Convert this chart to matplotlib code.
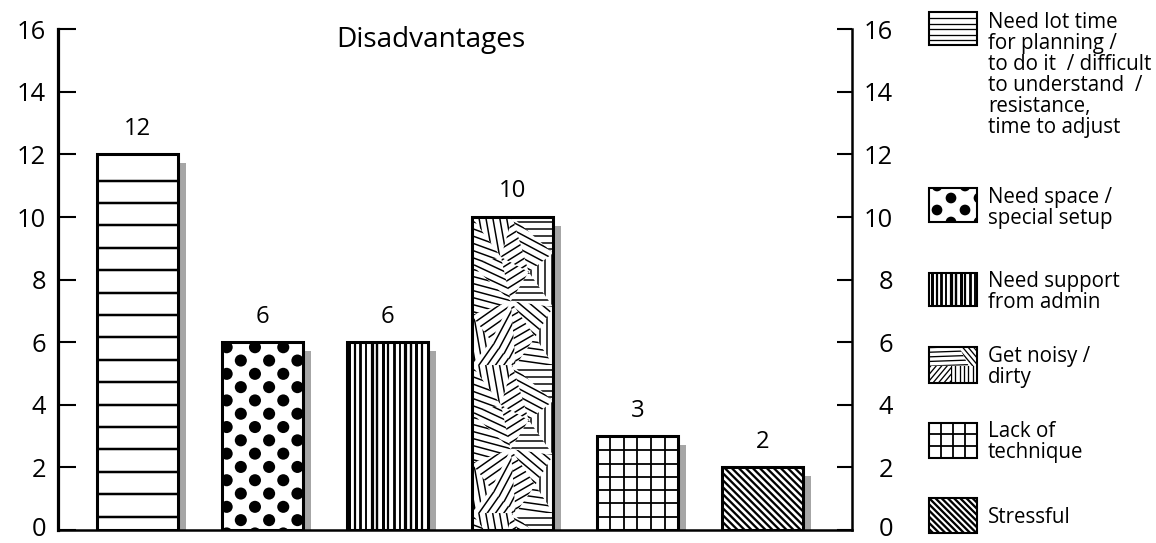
import numpy as np
import matplotlib
matplotlib.use("Agg")
import matplotlib.pyplot as plt
from matplotlib.collections import LineCollection, CircleCollection
from matplotlib.patches import Rectangle, Polygon
from matplotlib.transforms import IdentityTransform, Bbox, ScaledTranslation

# ---------------- data ----------------
title = "Disadvantages"
categories = [
    "Need lot time\nfor planning /\nto do it  / difficult\nto understand  /\nresistance,\ntime to adjust",
    "Need space /\nspecial setup",
    "Need support\nfrom admin",
    "Get noisy /\ndirty",
    "Lack of\ntechnique",
    "Stressful",
]
counts = [12, 6, 6, 10, 3, 2]
patterns = ["hlines", "dots", "vlines", "patchwork", "grid", "diagonal"]
y_ticks = [0, 2, 4, 6, 8, 10, 12, 14, 16]
y_tick_labels = [str(t) for t in y_ticks]

# ---------------- figure setup ----------------
W, H, DPI = 1156, 543, 100
PT = 72.0 / DPI                      # points per pixel
plt.rcParams["font.family"] = ["Open Sans", "DejaVu Sans"]

fig = plt.figure(figsize=(W / DPI, H / DPI), dpi=DPI)
fig.patch.set_facecolor("white")

ax_l, ax_r, ax_t, ax_b = 58.3, 852.0, 29.3, 530.0      # frame in image pixels
ax = fig.add_axes([ax_l / W, (H - ax_b) / H, (ax_r - ax_l) / W, (ax_b - ax_t) / H])
x = np.arange(len(counts))
bar_w = 0.652
ax.set_xlim(-0.633, 5.717)
ax.set_ylim(0, 16)

ID = IdentityTransform()


def _attach(target, artist, clip, clip_box):
    # add first, then clip (adding to an Axes would otherwise reset the clip)
    if target is fig:
        fig.add_artist(artist)
    else:
        target.add_collection(artist, autolim=False)
    if clip is not None:
        artist.set_clip_path(clip)
    if clip_box is not None:
        artist.set_clip_box(clip_box)


def add_lines(target, segs, lw_px, clip=None, clip_box=None, zorder=3, color="black"):
    lc = LineCollection(segs, colors=color, linewidths=lw_px * PT,
                        transform=ID, zorder=zorder, capstyle="butt")
    _attach(target, lc, clip, clip_box)
    return lc


def angled_segments(poly, angle, spacing):
    """Parallel lines at `angle` (display degrees) covering polygon `poly`."""
    poly = np.asarray(poly, float)
    c = poly.mean(axis=0)
    R = np.max(np.hypot(*(poly - c).T)) + spacing
    a = np.deg2rad(angle)
    d = np.array([np.cos(a), np.sin(a)])
    n = np.array([-np.sin(a), np.cos(a)])
    k = int(R / spacing) + 1
    segs = []
    for i in range(-k, k + 1):
        p = c + n * i * spacing
        segs.append([p - d * R, p + d * R])
    return segs


def add_dots(target, centers, diam_px, clip, zorder=3):
    cc = CircleCollection([(diam_px * PT) ** 2], offsets=centers,
                          offset_transform=ID, facecolors="black",
                          edgecolors="none", zorder=zorder)
    cc.set_transform(ID)
    _attach(target, cc, clip, None)


# tile used for the patchwork fill (u: fraction of width, v: px down from tile top)
tile_pts = {"A": (0, 0), "B": (0.5, 0), "C": (1, 0), "D": (0, 48), "E": (0.36, 40),
            "F": (0.7, 55), "G": (1, 36), "H": (0, 98), "I": (0.48, 84), "J": (1, 90),
            "K": (0, 148), "L": (0.54, 148), "M": (1, 148), "N": (0.24, 124), "O": (0.78, 120)}
tile_tris = [("ABE", 100), ("BEF", 32), ("BFG", -28), ("BCG", 0), ("AED", -20),
             ("DEI", -25), ("EFI", 32), ("FGJ", 90), ("FJI", 0), ("DHI", -15),
             ("HIN", 35), ("INL", 62), ("IOL", 30), ("IJO", -40), ("JMO", 90),
             ("OML", -8), ("HNK", 100), ("NLK", 55)]
TILE_H = 148


def fill_pattern(target, kind, x0, y0, x1, y1, clip, legend=False, base=None):
    """Draw a fill pattern inside the display box (x0,y0)-(x1,y1), clipped to `clip`."""
    w, h = x1 - x0, y1 - y0
    box = Bbox([[x0, y0], [x1, y1]])
    if kind == "hlines":
        if legend:
            ys = np.arange(y1 - 6.2, y0 + 1, -5.6)
            lw = 1.3
        else:
            ys = np.arange(base + 13.5, y1 - 4, 22.4)
            lw = 2.5
        add_lines(target, [[(x0 - 2, yy), (x1 + 2, yy)] for yy in ys], lw, clip)
    elif kind == "vlines":
        step = 4.8 if legend else 5.6
        xs = np.arange(x0 + 2.5, x1, step)
        widths = [3.0, 2.2, 2.8, 1.9, 3.2, 2.4]
        for i, xx in enumerate(xs):
            add_lines(target, [[(xx, y0 - 2), (xx, y1 + 2)]], widths[i % len(widths)], clip)
    elif kind == "grid":
        ncol = 4 if legend else 6
        xs = [x0 + w * k / ncol for k in range(1, ncol)]
        if legend:
            ys = [y0 + h * k / 3 for k in (1, 2)]
        else:
            ys = np.arange(base + 13.3, y1 - 2, 13.3)
        segs = [[(xx, y0 - 2), (xx, y1 + 2)] for xx in xs]
        segs += [[(x0 - 2, yy), (x1 + 2, yy)] for yy in ys]
        add_lines(target, segs, 1.8, clip)
    elif kind == "diagonal":
        step = 6.2 if legend else 7.0
        poly = [(x0, y0), (x1, y0), (x1, y1), (x0, y1)]
        add_lines(target, angled_segments(poly, -45, step * np.sin(np.pi / 4)),
                  2.3, clip)
    elif kind == "dots":
        if legend:
            dx, dy, d, fx, fy = 28.0, 12.0, 9.5, 7.7, -2.3
        else:
            dx, dy, d, fx, fy = 28.3, 13.3, 10.7, 5.0, 5.0
        centers = []
        r = 0
        yy = y1 - fy
        while yy > y0 - d:
            shift = 0 if r % 2 == 0 else dx / 2
            xx = x0 + fx + shift - dx
            while xx < x1 + d:
                centers.append((xx, yy))
                xx += dx
            yy -= dy
            r += 1
        add_dots(target, centers, d, clip)
    elif kind == "patchwork":
        if legend:
            # four quadrants with different line directions
            m = y1 - 0.53 * h
            quads = [([(x0, y1), (x0 + 0.62 * w, y1), (x0 + 0.83 * w, m), (x0, m)], 2, 4.6),
                     ([(x0 + 0.62 * w, y1), (x1, y1), (x1, m), (x0 + 0.83 * w, m)], -50, 4.2),
                     ([(x0, m), (x0 + 0.46 * w, m), (x0 + 0.46 * w, y0), (x0, y0)], 50, 4.2),
                     ([(x0 + 0.46 * w, m), (x1, m), (x1, y0), (x0 + 0.46 * w, y0)], 90, 4.4)]
            for poly, ang, sp in quads:
                pp = Polygon(poly, closed=True, transform=ID)
                add_lines(target, angled_segments(poly, ang, sp), 1.3, pp, box)
        else:
            top = y1
            k = 0
            while top - k * TILE_H > y0:
                tt = top - k * TILE_H
                for names, ang in tile_tris:
                    poly = [(x0 + tile_pts[c][0] * w, tt - tile_pts[c][1]) for c in names]
                    pp = Polygon(poly, closed=True, transform=ID)
                    add_lines(target, angled_segments(poly, ang, 6.8), 1.5, pp, box)
                k += 1


# ---------------- bars ----------------
rects = ax.bar(x, counts, width=bar_w, color="white", edgecolor="none", zorder=2)

# drop shadow on the right side of every bar
px_x = (ax_r - ax_l) / (5.717 + 0.633)     # pixels per x unit
px_y = (ax_b - ax_t) / 16.0                # pixels per y unit
shadow_h = [c - 9.0 / px_y for c in counts]
ax.bar(x + bar_w / 2 + 1.2 / px_x, shadow_h, width=6.5 / px_x, align="edge",
       color="#a6a6a6", edgecolor="none", zorder=1.5)

base_disp = ax.transData.transform((0, 0))[1]
for rect, kind in zip(rects, patterns):
    bb = rect.get_window_extent()
    fill_pattern(ax, kind, bb.x0, bb.y0, bb.x1, bb.y1, rect, base=base_disp)

ax.bar(x, counts, width=bar_w, fill=False, edgecolor="black", linewidth=2.2, zorder=4)

for xi, v in zip(x, counts):
    ax.annotate(str(v), xy=(xi, v), xytext=(0, 14.1), textcoords="offset points",
                ha="center", va="baseline", fontsize=17.2, zorder=5)

# ---------------- axes styling ----------------
ax.set_xticks([])
ax.set_yticks(y_ticks, y_tick_labels)
ax.tick_params(axis="y", direction="in", length=13, width=1.5, pad=8.9,
               labelsize=18.4, colors="black")
for s in ("top", "right"):
    ax.spines[s].set_visible(False)
ax.spines["left"].set_linewidth(2.3)
ax.spines["bottom"].set_linewidth(1.8)

ax2 = ax.twinx()
ax2.set_ylim(0, 16)
ax2.set_yticks(y_ticks, y_tick_labels)
ax2.tick_params(axis="y", direction="in", length=11, width=1.5, pad=29.5,
                labelsize=18.4, colors="black")
for lbl in ax2.get_yticklabels():
    lbl.set_horizontalalignment("right")
for s in ("top", "left", "bottom"):
    ax2.spines[s].set_visible(False)
ax2.spines["right"].set_linewidth(1.8)

# lift the two "0" labels a little so they stay inside the canvas
lift = ScaledTranslation(0, 4.0 / DPI, fig.dpi_scale_trans)
t0 = ax.yaxis.get_major_ticks()[0].label1
t0.set_transform(t0.get_transform() + lift)
t0r = ax2.yaxis.get_major_ticks()[0].label2
t0r.set_transform(t0r.get_transform() + lift)

fig.text(430.5 / W, (H - 46.7) / H, title, ha="center", va="baseline", fontsize=20.2)

# ---------------- legend ----------------
leg_x0, leg_x1 = 929.3, 976.7
leg_tops = [11.7, 188.3, 273.0, 346.7, 422.7, 498.3]
leg_heights = [33.3, 33.4, 33.0, 36.0, 35.0, 35.0]
leg_baselines = [28.3, 203.0, 287.0, 361.7, 436.7, 523.3]
line_pitch = 21.0
for label, kind, top, hh, bl in zip(categories, patterns, leg_tops, leg_heights, leg_baselines):
    y0d, y1d = H - (top + hh), H - top
    box = Rectangle((leg_x0, y0d), leg_x1 - leg_x0, hh, transform=ID,
                    facecolor="white", edgecolor="none", zorder=2)
    fig.add_artist(box)
    fill_pattern(fig, kind, leg_x0, y0d, leg_x1, y1d, box, legend=True)
    fig.add_artist(Rectangle((leg_x0, y0d), leg_x1 - leg_x0, hh, transform=ID,
                             fill=False, edgecolor="black", linewidth=1.5, zorder=4))
    for j, line in enumerate(label.split("\n")):
        fig.text(988.0 / W, (H - (bl + j * line_pitch)) / H, line, ha="left",
                 va="baseline", fontsize=14.8)

fig.savefig("out.png", dpi=DPI, facecolor="white")
